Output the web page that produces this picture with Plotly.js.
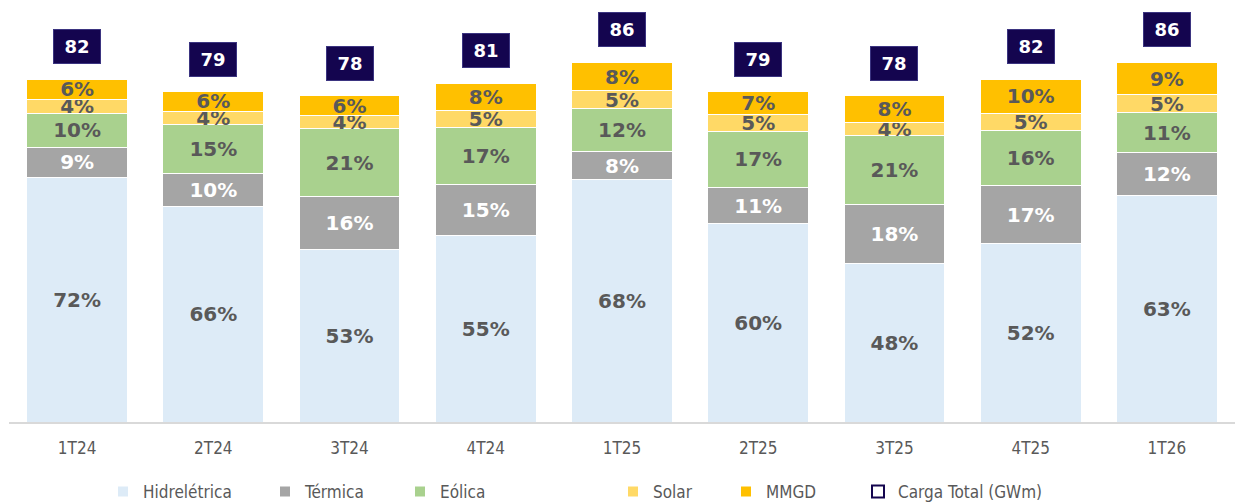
<!DOCTYPE html>
<html>
<head>
<meta charset="utf-8">
<script src="https://cdn.plot.ly/plotly-3.0.1.min.js"></script>
<style>body{margin:0;background:#fff;}</style>
</head>
<body>
<div id="chart" style="width:1235px;height:503px;"></div>
<script>
// quarters and total load (GWm)
const trimestres = ['1T24', '2T24', '3T24', '4T24', '1T25', '2T25', '3T25', '4T25', '1T26'];
const cargaTotal = [82, 79, 78, 81, 86, 79, 78, 82, 86];

// share of each source in the total (%)
const pctHidro   = [72, 66, 53, 55, 68, 60, 48, 52, 63];
const pctTermica = [9, 10, 16, 15, 8, 11, 18, 17, 12];
const pctEolica  = [10, 15, 21, 17, 12, 17, 21, 16, 11];
const pctSolar   = [4, 4, 4, 5, 5, 5, 4, 5, 5];
const pctMMGD    = [6, 6, 6, 8, 8, 7, 8, 10, 9];

const fontBold = 'DejaVu Sans, Verdana, sans-serif';
const fontAxis = '"DejaVu Sans Condensed", "DejaVu Sans", Tahoma, sans-serif';
const grey = '#595959';
const navy = '#14054f';

const yMax = 100.2;
const boxShift = 7.8;   // box sits ~33px above the bar top

// rounded shares don't always add to 100, so scale each stack to the total
let pctSum = trimestres.map((t, i) =>
    pctHidro[i] + pctTermica[i] + pctEolica[i] + pctSolar[i] + pctMMGD[i]);

function source_trace(name, pct, color, textColor, legendId){
    return {
        type: 'bar',
        name: name,
        x: trimestres,
        y: pct.map((p, i) => p / pctSum[i] * cargaTotal[i]),
        text: pct.map(p => p + '%'),
        textposition: 'inside',
        insidetextanchor: 'middle',
        textangle: 0,
        constraintext: 'none',
        insidetextfont: {family: fontBold, size: 20, color: textColor, weight: 'bold'},
        marker: {color: color, line: {color: '#ffffff', width: 1}},
        legend: legendId,
        hoverinfo: 'skip'
    };
}

let data = [
    source_trace('Hidrelétrica', pctHidro, '#ddebf7', grey, 'legend'),
    source_trace('Térmica', pctTermica, '#a5a5a5', '#ffffff', 'legend2'),
    source_trace('Eólica', pctEolica, '#a9d18e', grey, 'legend3'),
    source_trace('Solar', pctSolar, '#ffd966', grey, 'legend4'),
    source_trace('MMGD', pctMMGD, '#ffc000', grey, 'legend5'),
    {
        type: 'scatter',
        mode: 'markers',
        name: 'Carga Total (GWm)',
        x: trimestres,
        y: cargaTotal,
        yaxis: 'y2',
        marker: {symbol: 'square', size: 20, color: '#ffffff', line: {color: navy, width: 2}},
        legend: 'legend6',
        hoverinfo: 'skip'
    }
];

let annotations = trimestres.map((t, i) => ({
    x: t,
    y: cargaTotal[i],
    xref: 'x',
    yref: 'y2',
    text: '<b>' + cargaTotal[i] + '</b>',
    showarrow: false,
    font: {family: fontBold, size: 18, color: '#ffffff'},
    bgcolor: navy,
    bordercolor: '#3b3480',
    borderwidth: 1,
    width: 44,
    height: 31,
    yanchor: 'middle'
}));

// legend text starts (px): 143, 305, 440, 653, 766, 898
function legend_at(px){
    return {
        xref: 'container',
        x: (px - 40) / 1235,
        xanchor: 'left',
        yref: 'container',
        y: (503 - 492) / 503,
        yanchor: 'middle',
        orientation: 'h',
        bgcolor: 'rgba(0,0,0,0)',
        itemsizing: 'constant',
        font: {family: fontAxis, size: 17, color: grey}
    };
}

const layout = {
    width: 1235,
    height: 503,
    margin: {l: 9, r: 0, t: 3, b: 81, autoexpand: false},
    paper_bgcolor: '#ffffff',
    plot_bgcolor: '#ffffff',
    barmode: 'stack',
    bargap: 0.26,
    showlegend: true,
    xaxis: {
        type: 'category',
        range: [-0.5, trimestres.length - 0.5],
        showline: true,
        linecolor: '#d9d9d9',
        linewidth: 2,
        ticks: '',
        ticklabelstandoff: 10,
        tickfont: {family: fontAxis, size: 17, color: grey},
        fixedrange: true
    },
    yaxis: {
        range: [0, yMax],
        visible: false,
        showgrid: false,
        zeroline: false,
        fixedrange: true
    },
    yaxis2: {
        overlaying: 'y',
        range: [-boxShift, yMax - boxShift],
        visible: false,
        showgrid: false,
        zeroline: false,
        fixedrange: true
    },
    legend: legend_at(143),
    legend2: legend_at(305),
    legend3: legend_at(440),
    legend4: legend_at(653),
    legend5: legend_at(766),
    legend6: legend_at(898),
    annotations: annotations
};

Plotly.newPlot('chart', data, layout, {displayModeBar: false, staticPlot: true});
</script>
</body>
</html>
